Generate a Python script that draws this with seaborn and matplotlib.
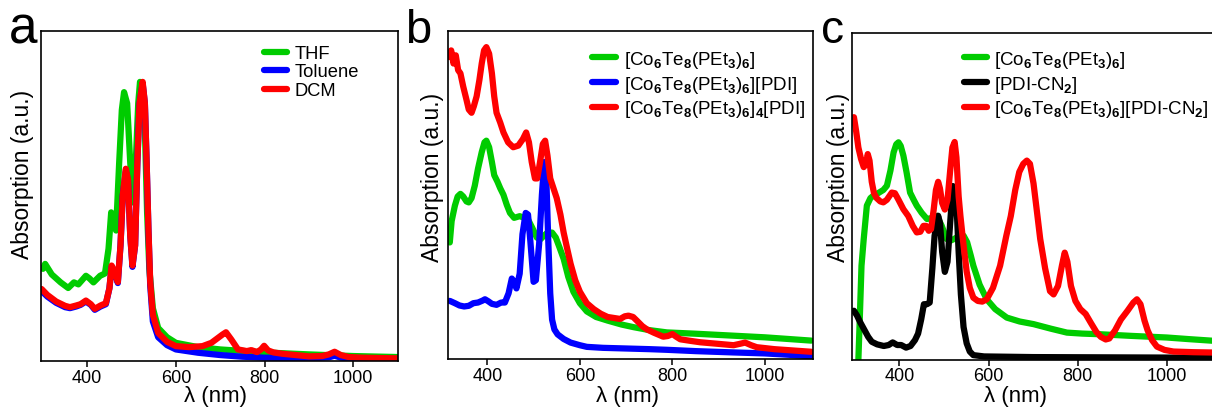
import numpy as np
import pandas as pd
import matplotlib
matplotlib.use("Agg")
import matplotlib.pyplot as plt
import seaborn as sns

# ---------------- data (normalised to axes height) -------------
# panel a
a_thf_x = [300, 305, 320, 340, 357, 370, 380, 397, 405, 414, 429, 440, 448, 454, 459, 465, 472, 478, 483,
           490, 497, 503, 510, 515, 519, 525, 530, 535, 540, 548, 560, 580, 600, 650, 700, 800, 900, 1000, 1100]
a_thf_y = [0.279, 0.294, 0.262, 0.238, 0.221, 0.238, 0.232, 0.258, 0.25, 0.238, 0.258, 0.265, 0.34, 0.45,
           0.43, 0.395, 0.6, 0.76, 0.814, 0.78, 0.6, 0.48, 0.62, 0.78, 0.845, 0.835, 0.7, 0.45, 0.28, 0.16,
           0.1, 0.072, 0.055, 0.042, 0.035, 0.026, 0.02, 0.015, 0.012]

a_dcm_x = [297, 310, 330, 350, 361, 375, 385, 397, 408, 417, 430, 442, 450, 455, 462, 469, 475, 480, 487,
           492, 497, 502, 508, 513, 518, 525, 530, 534, 538, 542, 548, 560, 580, 600, 630, 660, 680, 695,
           705, 713, 725, 740, 760, 770, 783, 792, 799, 808, 820, 840, 870, 900, 930, 945, 958, 972, 990,
           1020, 1060, 1100]
a_dcm_y = [0.218, 0.2, 0.18, 0.167, 0.163, 0.168, 0.172, 0.183, 0.172, 0.158, 0.168, 0.175, 0.22, 0.289,
           0.27, 0.239, 0.35, 0.5, 0.582, 0.55, 0.38, 0.289, 0.35, 0.6, 0.78, 0.845, 0.78, 0.6, 0.4, 0.24,
           0.14, 0.085, 0.058, 0.045, 0.042, 0.045, 0.055, 0.07, 0.08, 0.087, 0.065, 0.035, 0.03, 0.033,
           0.027, 0.035, 0.046, 0.032, 0.026, 0.022, 0.018, 0.014, 0.015, 0.02, 0.028, 0.018, 0.012, 0.01,
           0.009, 0.008]

a_tol_x = [297, 310, 330, 350, 361, 375, 385, 397, 408, 417, 430, 442, 450, 455, 462, 469, 475, 480, 487,
           492, 497, 502, 508, 513, 518, 525, 530, 534, 538, 542, 548, 560, 580, 600, 650, 700, 750, 800,
           900, 945, 958, 972, 1000, 1100]
a_tol_y = [0.212, 0.195, 0.176, 0.163, 0.16, 0.165, 0.17, 0.18, 0.17, 0.155, 0.165, 0.172, 0.22, 0.285,
           0.268, 0.236, 0.35, 0.5, 0.575, 0.545, 0.38, 0.285, 0.35, 0.6, 0.78, 0.84, 0.78, 0.6, 0.4, 0.23,
           0.12, 0.072, 0.048, 0.035, 0.025, 0.018, 0.013, 0.01, 0.008, 0.011, 0.016, 0.01, 0.007, 0.004]

# panel b
b_co_x = [319, 323, 330, 336, 342, 348, 355, 360, 366, 373, 380, 388, 394, 398, 404, 410, 415, 422, 428,
          435, 442, 449, 458, 470, 480, 488, 497, 507, 515, 522, 530, 540, 548, 556, 565, 575, 586, 600, 615,
          635, 660, 690, 716, 750, 788, 850, 932, 1000, 1050, 1100]
b_co_y = [0.355, 0.42, 0.467, 0.495, 0.503, 0.495, 0.48, 0.477, 0.49, 0.528, 0.58, 0.63, 0.66, 0.665,
          0.645, 0.6, 0.56, 0.54, 0.52, 0.5, 0.47, 0.445, 0.43, 0.435, 0.43, 0.425, 0.4, 0.37, 0.365, 0.375,
          0.385, 0.385, 0.37, 0.34, 0.305, 0.25, 0.205, 0.17, 0.145, 0.128, 0.117, 0.105, 0.097, 0.088,
          0.081, 0.077, 0.071, 0.066, 0.061, 0.056]

b_pdi_x = [319, 330, 340, 350, 360, 370, 380, 390, 395, 402, 410, 420, 430, 438, 446, 453, 458, 463, 470,
           476, 483, 488, 493, 500, 505, 512, 518, 523, 528, 532, 536, 540, 545, 552, 565, 580, 600, 615, 650,
           700, 750, 788, 850, 932, 1000, 1050, 1100]
b_pdi_y = [0.177, 0.17, 0.163, 0.16, 0.162, 0.17, 0.172, 0.178, 0.182, 0.176, 0.168, 0.165, 0.172, 0.172,
           0.2, 0.245, 0.235, 0.215, 0.26, 0.38, 0.445, 0.44, 0.36, 0.235, 0.24, 0.35, 0.5, 0.6, 0.53, 0.35,
           0.2, 0.12, 0.09, 0.075, 0.061, 0.05, 0.042, 0.037, 0.034, 0.032, 0.03, 0.028, 0.024, 0.02, 0.017,
           0.013, 0.008]

b_mix_x = [318, 322, 327, 332, 337, 342, 348, 355, 360, 366, 371, 377, 383, 388, 393, 398, 404, 410, 415,
           420, 428, 435, 445, 456, 467, 477, 484, 490, 496, 503, 508, 514, 520, 525, 530, 536, 543, 550,
           558, 565, 572, 580, 590, 600, 615, 630, 645, 660, 687, 697, 705, 715, 723, 735, 745, 760, 780,
           790, 800, 808, 817, 840, 860, 900, 932, 945, 957, 970, 982, 1020, 1060, 1100]
b_mix_y = [0.92, 0.94, 0.9, 0.925, 0.88, 0.87, 0.83, 0.79, 0.76, 0.75, 0.77, 0.8, 0.85, 0.9, 0.94, 0.95,
           0.93, 0.87, 0.8, 0.75, 0.72, 0.69, 0.66, 0.645, 0.65, 0.67, 0.69, 0.66, 0.6, 0.55, 0.55, 0.6,
           0.655, 0.665, 0.62, 0.55, 0.52, 0.49, 0.44, 0.385, 0.34, 0.29, 0.24, 0.205, 0.17, 0.152, 0.138,
           0.128, 0.122, 0.13, 0.132, 0.128, 0.117, 0.1, 0.09, 0.08, 0.068, 0.07, 0.076, 0.068, 0.06, 0.055,
           0.051, 0.046, 0.042, 0.046, 0.05, 0.042, 0.036, 0.03, 0.026, 0.022]

# panel c
c_co_x = [308, 311, 315, 320, 327, 335, 342, 352, 364, 372, 380, 387, 393, 398, 403, 409, 416, 424, 432,
          439, 450, 462, 475, 484, 495, 506, 515, 523, 535, 544, 552, 560, 566, 580, 596, 615, 641, 670,
          701, 740, 776, 810, 850, 920, 1000, 1050, 1104]
c_co_y = [0.0, 0.12, 0.288, 0.37, 0.472, 0.495, 0.503, 0.51, 0.52, 0.533, 0.58, 0.635, 0.66, 0.666,
          0.655, 0.625, 0.575, 0.512, 0.49, 0.472, 0.45, 0.431, 0.435, 0.441, 0.41, 0.37, 0.365, 0.37,
          0.38, 0.38, 0.36, 0.32, 0.288, 0.23, 0.185, 0.155, 0.129, 0.117, 0.109, 0.095, 0.083, 0.08, 0.078,
          0.073, 0.068, 0.063, 0.058]

c_cn_x = [298, 305, 312, 320, 330, 338, 350, 365, 376, 385, 395, 404, 415, 425, 435, 442, 449, 455, 462,
          468, 474, 479, 487, 491, 496, 502, 508, 514, 520, 524, 529, 533, 538, 544, 551, 558, 566, 590,
          700, 900, 1104]
c_cn_y = [0.15, 0.135, 0.115, 0.095, 0.07, 0.055, 0.047, 0.042, 0.045, 0.053, 0.045, 0.045, 0.037, 0.042,
          0.06, 0.08, 0.124, 0.17, 0.17, 0.175, 0.28, 0.38, 0.441, 0.42, 0.33, 0.269, 0.3, 0.42, 0.532,
          0.525, 0.45, 0.33, 0.2, 0.1, 0.05, 0.025, 0.014, 0.01, 0.008, 0.007, 0.006]

c_mix_x = [298, 303, 308, 314, 320, 325, 329, 333, 338, 343, 349, 357, 364, 372, 383, 390, 398, 409, 420,
           430, 439, 447, 454, 460, 466, 471, 477, 482, 487, 491, 496, 502, 508, 514, 519, 524, 528, 533,
           537, 544, 551, 558, 566, 576, 586, 596, 610, 626, 640, 650, 660, 669, 678, 686, 693, 701, 709,
           716, 727, 738, 746, 756, 765, 771, 777, 785, 795, 806, 818, 830, 842, 852, 863, 871, 884, 897,
           912, 925, 933, 941, 950, 957, 967, 978, 995, 1015, 1060, 1104]
c_mix_y = [0.743, 0.7, 0.65, 0.615, 0.59, 0.6, 0.63, 0.61, 0.545, 0.51, 0.495, 0.485, 0.482, 0.49, 0.512,
           0.51, 0.49, 0.461, 0.44, 0.41, 0.39, 0.392, 0.41, 0.41, 0.395, 0.4, 0.46, 0.52, 0.545, 0.525,
           0.48, 0.46, 0.49, 0.58, 0.65, 0.667, 0.62, 0.5, 0.44, 0.35, 0.27, 0.22, 0.19, 0.18, 0.178, 0.185,
           0.22, 0.288, 0.38, 0.44, 0.52, 0.575, 0.6, 0.61, 0.6, 0.54, 0.45, 0.37, 0.28, 0.21, 0.2, 0.226,
           0.29, 0.328, 0.3, 0.226, 0.18, 0.155, 0.14, 0.112, 0.085, 0.07, 0.062, 0.065, 0.09, 0.123, 0.15,
           0.175, 0.185, 0.17, 0.12, 0.09, 0.06, 0.04, 0.03, 0.025, 0.023, 0.022]

x_ticks = [400, 600, 800, 1000]
legend_a = ["THF", "Toluene", "DCM"]
co = r"[Co$_\mathbf{6}$Te$_\mathbf{8}$(PEt$_\mathbf{3}$)$_\mathbf{6}$]"
legend_b = [co, co + "[PDI]", r"[Co$_\mathbf{6}$Te$_\mathbf{8}$(PEt$_\mathbf{3}$)$_\mathbf{6}$]$_\mathbf{4}$[PDI]"]
legend_c = [co, r"[PDI-CN$_\mathbf{2}$]", co + r"[PDI-CN$_\mathbf{2}$]"]

GREEN, BLUE, RED, BLACK = "#00CC00", "#0000FF", "#FF0000", "#000000"

# ---------------- style -------------
sns.set_style("ticks")
plt.rcParams["font.family"] = ["Liberation Sans", "DejaVu Sans"]
plt.rcParams["mathtext.fontset"] = "custom"
plt.rcParams["mathtext.rm"] = "Liberation Sans"
plt.rcParams["mathtext.it"] = "Liberation Sans:italic"
plt.rcParams["mathtext.bf"] = "Liberation Sans:bold"
for k in ["text.color", "axes.labelcolor", "xtick.color", "ytick.color", "axes.edgecolor"]:
    plt.rcParams[k] = "black"

W, H = 1212, 410
fig = plt.figure(figsize=(W / 100, H / 100), dpi=100)


def px_axes(l, t, r, b):
    return fig.add_axes([l / W, 1 - b / H, (r - l) / W, (b - t) / H])


ax_a = px_axes(40.7, 31.7, 398, 362)
ax_b = px_axes(447.7, 31.7, 812.7, 360)
ax_c = px_axes(851.7, 34.3, 1214, 360.7)

LW = 4.5


def draw(ax, series, xlim):
    for xs, ys, col, lab in series:
        df = pd.DataFrame({"x": xs, "y": ys})
        sns.lineplot(data=df, x="x", y="y", color=col, lw=LW, ax=ax, label=lab,
                     solid_capstyle="round", solid_joinstyle="round", sort=False)
    ax.set_xlim(*xlim)
    ax.set_ylim(0, 1)
    ax.set_yticks([])
    ax.set_xticks(x_ticks)
    ax.tick_params(axis="x", direction="out", length=4, width=1.1, labelsize=13, pad=1.5)
    for s in ax.spines.values():
        s.set_linewidth(1.2)
        s.set_color("black")
    ax.set_xlabel("λ (nm)", fontsize=16, labelpad=0)
    ax.set_ylabel("Absorption (a.u.)", fontsize=16.5)


draw(ax_a, [(a_thf_x, a_thf_y, GREEN, legend_a[0]),
            (a_tol_x, a_tol_y, BLUE, legend_a[1]),
            (a_dcm_x, a_dcm_y, RED, legend_a[2])], (295, 1101))
draw(ax_b, [(b_co_x, b_co_y, GREEN, legend_b[0]),
            (b_pdi_x, b_pdi_y, BLUE, legend_b[1]),
            (b_mix_x, b_mix_y, RED, legend_b[2])], (314.5, 1103))
draw(ax_c, [(c_co_x, c_co_y, GREEN, legend_c[0]),
            (c_cn_x, c_cn_y, BLACK, legend_c[1]),
            (c_mix_x, c_mix_y, RED, legend_c[2])], (293, 1106))
ax_c.spines["right"].set_visible(False)


def place_labels(ax, l, t, r, b, ylab_x, ylab_y, xlab_x, xlab_top):
    w, h = r - l, b - t
    ax.yaxis.label.set_va("center")
    ax.yaxis.set_label_coords((ylab_x - l) / w, (b - ylab_y) / h)
    ax.xaxis.set_label_coords((xlab_x - l) / w, (b - xlab_top) / h)


place_labels(ax_a, 40.7, 31.7, 398, 362, 23, 174, 215, 386)
place_labels(ax_b, 447.7, 31.7, 812.7, 360, 432, 177, 627, 386)
place_labels(ax_c, 851.7, 34.3, 1214, 360.7, 838, 177, 1015, 386)


def legend(ax, l, t, r, b, hx, ty, fs, hl, spacing):
    w, h = r - l, b - t
    ax.legend(loc="upper left", bbox_to_anchor=((hx - l) / w, (b - ty) / h), frameon=False,
              fontsize=fs, handlelength=hl, handletextpad=0.4, borderpad=0, borderaxespad=0,
              labelspacing=spacing)


legend(ax_a, 40.7, 31.7, 398, 362, 264, 46, 13.2, 1.25, 0.08)
legend(ax_b, 447.7, 31.7, 812.7, 360, 592, 50, 13.5, 1.3, 0.2)
legend(ax_c, 851.7, 34.3, 1214, 360.7, 964, 50, 13.5, 1.2, 0.2)

fig.text(9 / W, 1 - 43 / H, "a", fontsize=37, va="baseline", ha="left")
fig.text(405 / W, 1 - 43 / H, "b", fontsize=34, va="baseline", ha="left")
fig.text(821 / W, 1 - 43 / H, "c", fontsize=33, va="baseline", ha="left")

fig.savefig("out.png", dpi=100)
